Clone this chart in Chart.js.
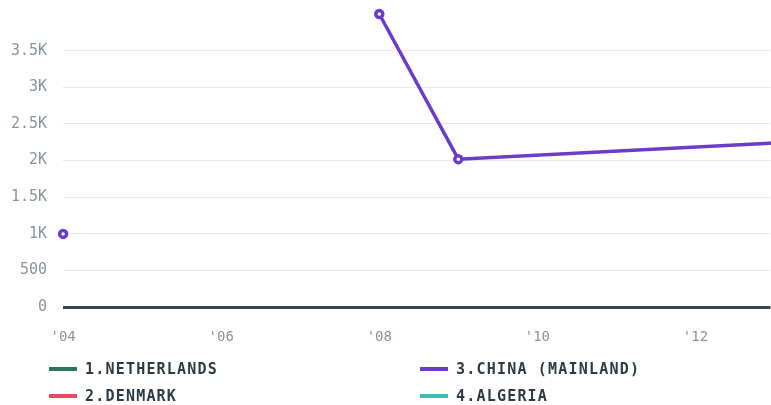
<!DOCTYPE html>
<html>
<head>
<meta charset="utf-8">
<script src="https://cdn.jsdelivr.net/npm/chart.js@4/dist/chart.umd.min.js"></script>
<style>
  body { margin: 0; background: #fff; width: 771px; height: 405px; overflow: hidden; position: relative; }
  #wrap { position: absolute; top: -11px; left: -5px; width: 783px; height: 379px; }
  .legend { position: absolute; top: 359px; left: 49px; width: 722px; font-family: "DejaVu Sans Mono", monospace; font-weight: bold; font-size: 15px; letter-spacing: 1.2px; color: #2d3b45; }
  .item { position: absolute; display: flex; align-items: center; height: 20px; }
  .sw { width: 28px; height: 4px; margin-right: 8px; }
</style>
</head>
<body>
<div id="wrap"><canvas id="grafico"></canvas></div>
<div class="legend" id="leyenda"></div>
<script>
// datos
const series = ['1.NETHERLANDS', '2.DENMARK', '3.CHINA (MAINLAND)', '4.ALGERIA'];
const colores = ['#2e7559', '#e84a5f', '#6a3dc8', '#3dbdb5'];
const chinaYears = [2004, 2005, 2008, 2009, 2013];
const chinaValues = [1000, null, 4000, 2020, 2240];
const chinaPoints = [3.5, 0, 3.5, 3.5, 0];
const xTicks = [2004, 2006, 2008, 2010, 2012];
const yTicks = [0, 500, 1000, 1500, 2000, 2500, 3000, 3500];

const fuente = '"DejaVu Sans Mono", monospace';

const datasets = series.map((nombre, i) => ({
  label: nombre,
  data: i === 2 ? chinaYears.map((x, j) => ({ x: x, y: chinaValues[j] })) : [],
  borderColor: colores[i],
  backgroundColor: '#ffffff',
  borderWidth: 3.5,
  pointRadius: i === 2 ? chinaPoints : 0,
  pointBorderWidth: 3.5,
  pointBorderColor: colores[i],
  pointBackgroundColor: '#ffffff',
  spanGaps: false,
  clip: false,
  tension: 0
}));

new Chart(document.getElementById('grafico'), {
  type: 'line',
  data: { datasets: datasets },
  options: {
    responsive: true,
    maintainAspectRatio: false,
    animation: false,
    layout: { padding: 0 },
    plugins: { legend: { display: false }, tooltip: { enabled: false } },
    scales: {
      x: {
        type: 'linear',
        min: 2004,
        max: 2012.95,
        afterBuildTicks: (axis) => { axis.ticks = xTicks.map(v => ({ value: v })); },
        ticks: {
          color: '#8a9499',
          font: { family: fuente, size: 14 },
          padding: 22,
          maxRotation: 0,
          callback: (v) => "'" + String(v).slice(2)
        },
        grid: { display: false, drawTicks: false },
        border: { display: false }
      },
      y: {
        min: 0,
        max: 4000,
        afterBuildTicks: (axis) => { axis.ticks = yTicks.map(v => ({ value: v })); },
        ticks: {
          color: '#8a9499',
          font: { family: fuente, size: 15 },
          padding: 16,
          callback: (v) => v >= 1000 ? (v / 1000) + 'K' : String(v)
        },
        grid: {
          drawTicks: false,
          color: (ctx) => ctx.tick && ctx.tick.value === 0 ? '#37474f' : '#e8e8e8',
          lineWidth: (ctx) => ctx.tick && ctx.tick.value === 0 ? 3 : 1
        },
        border: { display: false }
      }
    }
  }
});

// leyenda en dos columnas
const leyenda = document.getElementById('leyenda');
const posiciones = [[0, 0], [0, 27], [371, 0], [371, 27]];
series.forEach((nombre, i) => {
  const div = document.createElement('div');
  div.className = 'item';
  div.style.left = posiciones[i][0] + 'px';
  div.style.top = posiciones[i][1] + 'px';
  div.innerHTML = '<span class="sw" style="background:' + colores[i] + '"></span>' + nombre;
  leyenda.appendChild(div);
});
</script>
</body>
</html>
